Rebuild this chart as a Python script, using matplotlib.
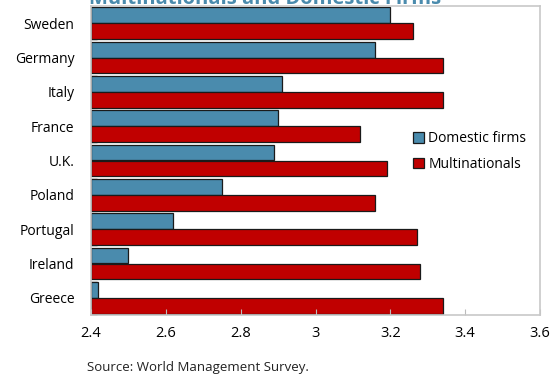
import numpy as np
import matplotlib.pyplot as plt

plt.rcParams['font.family'] = ['Open Sans', 'DejaVu Sans']

# datos
countries = ['Sweden', 'Germany', 'Italy', 'France', 'U.K.', 'Poland', 'Portugal', 'Ireland', 'Greece']
domestic = [3.20, 3.16, 2.91, 2.90, 2.89, 2.75, 2.62, 2.50, 2.42]
multinationals = [3.26, 3.34, 3.34, 3.12, 3.19, 3.16, 3.27, 3.28, 3.34]
xticks = [2.4, 2.6, 2.8, 3.0, 3.2, 3.4, 3.6]
xticklabels = ['2.4', '2.6', '2.8', '3', '3.2', '3.4', '3.6']

blue = '#4A8BAD'
red = '#C00000'

fig = plt.figure(figsize=(5.52, 3.75), dpi=100)
ax = fig.add_axes([91 / 552, 1 - 315 / 375, 449 / 552, 309 / 375])

y = np.arange(len(countries))
h = 0.46
ax.barh(y - h / 2, [d - 2.4 for d in domestic], left=2.4, height=h,
        color=blue, edgecolor='#1a1a1a', linewidth=0.9, label='Domestic firms')
ax.barh(y + h / 2, [m - 2.4 for m in multinationals], left=2.4, height=h,
        color=red, edgecolor='#1a1a1a', linewidth=0.9, label='Multinationals')

ax.set_xlim(2.4, 3.6)
ax.set_ylim(len(countries) - 0.5, -0.5)
ax.set_xticks(xticks)
ax.set_xticklabels(xticklabels, fontsize=10.5)
ax.set_yticks(y)
ax.set_yticklabels(countries, fontsize=10)
ax.tick_params(axis='x', direction='in', length=4, color='#bbbbbb', pad=8)
ax.tick_params(axis='y', length=0, pad=12)
ax.set_yticks(np.arange(len(countries) + 1) - 0.5, minor=True)
ax.tick_params(axis='y', which='minor', direction='in', length=4, color='#bbbbbb')
for s in ax.spines.values():
    s.set_color('#c8c8c8')
    s.set_linewidth(1.2)

leg = ax.legend(loc='upper left', bbox_to_anchor=(0.705, 0.612), frameon=False,
                fontsize=10, handlelength=0.8, handleheight=0.8, handletextpad=0.3,
                labelspacing=0.75, borderaxespad=0)

fig.text(0.48, 1.003, 'Multinationals and Domestic Firms', ha='center', va='center',
         fontsize=14.5, fontweight='bold', color=blue)
fig.text(87 / 552, 1 - 367 / 375, 'Source: World Management Survey.', fontsize=9.5,
         va='center', ha='left', color='#222222')

fig.savefig('out.png', dpi=100)
